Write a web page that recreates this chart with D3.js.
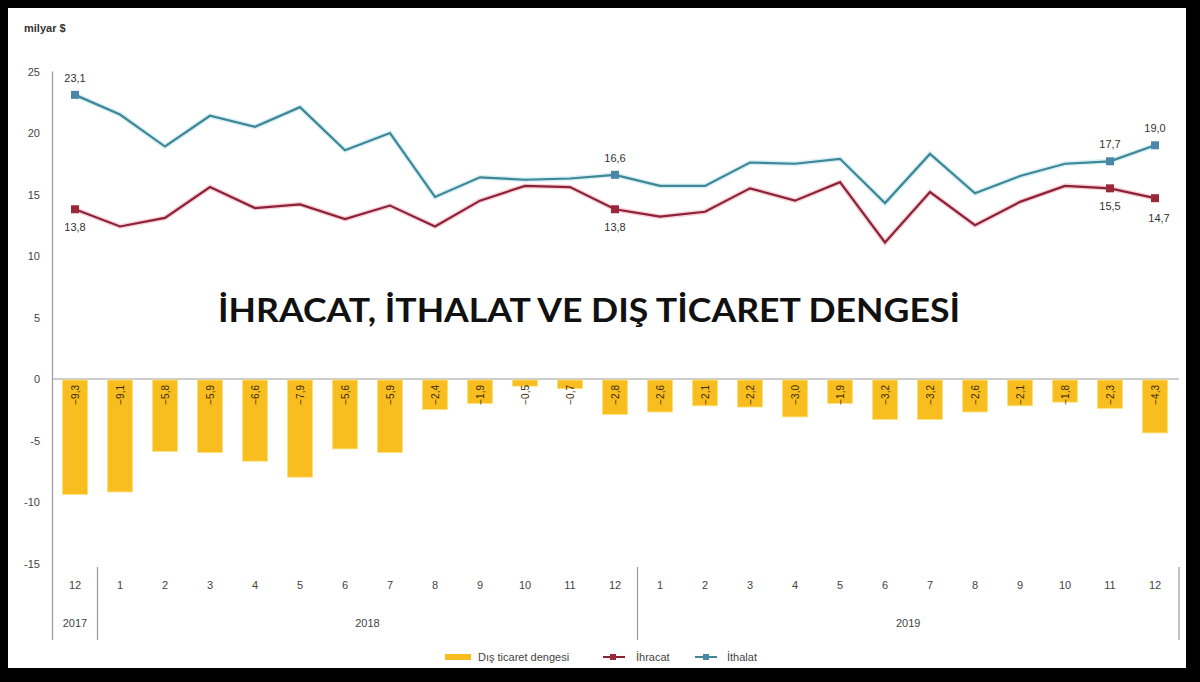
<!DOCTYPE html>
<html><head><meta charset="utf-8">
<script src="https://cdn.jsdelivr.net/npm/d3@7/dist/d3.min.js"></script>
<style>html,body{margin:0;padding:0;background:#000;}svg{display:block;}</style>
</head><body>
<svg id="c" width="1200" height="682"></svg>
<script>
const months = ["12","1","2","3","4","5","6","7","8","9","10","11","12","1","2","3","4","5","6","7","8","9","10","11","12"];
const years = [{label:"2017", from:0, to:0},{label:"2018", from:1, to:12},{label:"2019", from:13, to:24}];
const imports = [23.1,21.5,18.9,21.4,20.5,22.1,18.6,20.0,14.8,16.4,16.2,16.3,16.6,15.7,15.7,17.6,17.5,17.9,14.3,18.3,15.1,16.5,17.5,17.7,19.0];
const exports = [13.8,12.4,13.1,15.6,13.9,14.2,13.0,14.1,12.4,14.5,15.7,15.6,13.8,13.2,13.6,15.5,14.5,16.0,11.1,15.2,12.5,14.4,15.7,15.5,14.7];
const balance = [-9.3,-9.1,-5.8,-5.9,-6.6,-7.9,-5.6,-5.9,-2.4,-1.9,-0.5,-0.7,-2.8,-2.6,-2.1,-2.2,-3.0,-1.9,-3.2,-3.2,-2.6,-2.1,-1.8,-2.3,-4.3];
const yTicks = [25,20,15,10,5,0,-5,-10,-15];
const labeled = [0,12,23,24];
const title = "İHRACAT, İTHALAT VE DIŞ TİCARET DENGESİ";

const svg = d3.select("#c");
svg.append("rect").attr("x",0).attr("y",0).attr("width",1200).attr("height",682).attr("fill","#000");
svg.append("rect").attr("x",8).attr("y",8).attr("width",1178).attr("height",660).attr("fill","#fff");

const x = d3.scaleBand().domain(d3.range(months.length)).range([52.5,1177.5]).paddingInner(0.44).paddingOuter(0.22);
const xc = i => x(i) + x.bandwidth()/2;
const y = d3.scaleLinear().domain([-15,25]).range([563.5,71.5]);
const font = "'Liberation Sans', Arial, sans-serif";

// y axis labels
svg.append("g").selectAll("text").data(yTicks).join("text")
  .attr("x",40).attr("y",d=>y(d)+4).attr("text-anchor","end")
  .attr("font-family",font).attr("font-size",11).attr("fill","#444").text(d=>d);
svg.append("text").attr("x",24).attr("y",32).attr("font-family",font).attr("font-size",11)
  .attr("font-weight","bold").attr("fill","#333").text("milyar $");

// axis lines
svg.append("line").attr("x1",52.5).attr("x2",52.5).attr("y1",y(25)).attr("y2",640).attr("stroke","#999").attr("stroke-width",1.2);
svg.append("line").attr("x1",52.5).attr("x2",1179).attr("y1",y(0)).attr("y2",y(0)).attr("stroke","#999").attr("stroke-width",1.2);
// year separators
const seps = [ (xc(0)+xc(1))/2, (xc(12)+xc(13))/2, 1179 ];
svg.append("g").selectAll("line").data(seps).join("line")
  .attr("x1",d=>d).attr("x2",d=>d).attr("y1",567).attr("y2",640).attr("stroke","#999").attr("stroke-width",1.2);

// bars
svg.append("g").selectAll("rect").data(balance).join("rect")
  .attr("x",(d,i)=>x(i)).attr("width",x.bandwidth())
  .attr("y",y(0)+1).attr("height",d=>y(d)-y(0))
  .attr("fill","#F8BE1F").attr("stroke","#FCE27A").attr("stroke-width",0.8);
svg.append("g").selectAll("text").data(balance).join("text")
  .attr("transform",(d,i)=>`translate(${xc(i)+4},${y(0)+6}) rotate(-90)`)
  .attr("text-anchor","end").attr("font-family",font).attr("font-size",10).attr("fill","#3a2a00")
  .text(d=>d3.format(".1f")(d).replace(".",",").replace("-","-"));

// lines
const line = d3.line().x((d,i)=>xc(i)).y(d=>y(d));
svg.append("path").datum(imports).attr("d",line).attr("fill","none").attr("stroke","#D6F0F4").attr("stroke-width",5);
svg.append("path").datum(imports).attr("d",line).attr("fill","none").attr("stroke","#3F8697").attr("stroke-width",2.2);
svg.append("path").datum(exports).attr("d",line).attr("fill","none").attr("stroke","#F6D2D8").attr("stroke-width",5);
svg.append("path").datum(exports).attr("d",line).attr("fill","none").attr("stroke","#8C2237").attr("stroke-width",2.2);

// markers
svg.append("g").selectAll("rect").data(labeled).join("rect")
  .attr("x",i=>xc(i)-4).attr("y",i=>y(imports[i])-4).attr("width",8).attr("height",8).attr("fill","#4A86A8");
svg.append("g").selectAll("rect").data(labeled).join("rect")
  .attr("x",i=>xc(i)-4).attr("y",i=>y(exports[i])-4).attr("width",8).attr("height",8).attr("fill","#9A2838");
const fmt = v => d3.format(".1f")(v).replace(".",",");
svg.append("g").selectAll("text").data(labeled).join("text")
  .attr("x",i=>xc(i)).attr("y",i=>y(imports[i])-13).attr("text-anchor","middle")
  .attr("font-family",font).attr("font-size",11).attr("fill","#333").text(i=>fmt(imports[i]));
svg.append("g").selectAll("text").data(labeled).join("text")
  .attr("x",i=>xc(i)+(i===24?4:0)).attr("y",i=>y(exports[i])+(i===24?24:22)).attr("text-anchor","middle")
  .attr("font-family",font).attr("font-size",11).attr("fill","#333").text(i=>fmt(exports[i]));

// x labels
svg.append("g").selectAll("text").data(months).join("text")
  .attr("x",(d,i)=>xc(i)).attr("y",589).attr("text-anchor","middle")
  .attr("font-family",font).attr("font-size",11).attr("fill","#444").text(d=>d);
svg.append("g").selectAll("text").data(years).join("text")
  .attr("x",d=>d.from===0?xc(0):(d.from===1?(seps[0]+seps[1])/2:(seps[1]+seps[2])/2)).attr("y",627).attr("text-anchor","middle")
  .attr("font-family",font).attr("font-size",11).attr("fill","#444").text(d=>d.label);

// title
svg.append("text").attr("x",218).attr("y",322).attr("textLength",742).attr("lengthAdjust","spacingAndGlyphs")
  .attr("font-family","Lato, 'Open Sans', sans-serif").attr("font-weight","bold").attr("font-size",33).attr("fill","#111").text(title);

// legend
const lg = svg.append("g").attr("font-family",font).attr("font-size",11).attr("fill","#444");
lg.append("rect").attr("x",445).attr("y",654).attr("width",26).attr("height",6).attr("fill","#F8BE1F");
lg.append("text").attr("x",478).attr("y",661).text("Dış ticaret dengesi");
lg.append("line").attr("x1",603).attr("x2",625).attr("y1",657).attr("y2",657).attr("stroke","#8C2237").attr("stroke-width",2);
lg.append("rect").attr("x",610).attr("y",654).attr("width",6).attr("height",6).attr("fill","#9A2838");
lg.append("text").attr("x",636).attr("y",661).text("İhracat");
lg.append("line").attr("x1",695).attr("x2",717).attr("y1",657).attr("y2",657).attr("stroke","#3F8697").attr("stroke-width",2);
lg.append("rect").attr("x",703).attr("y",654).attr("width",6).attr("height",6).attr("fill","#4A86A8");
lg.append("text").attr("x",727).attr("y",661).text("İthalat");
</script>
</body></html>
